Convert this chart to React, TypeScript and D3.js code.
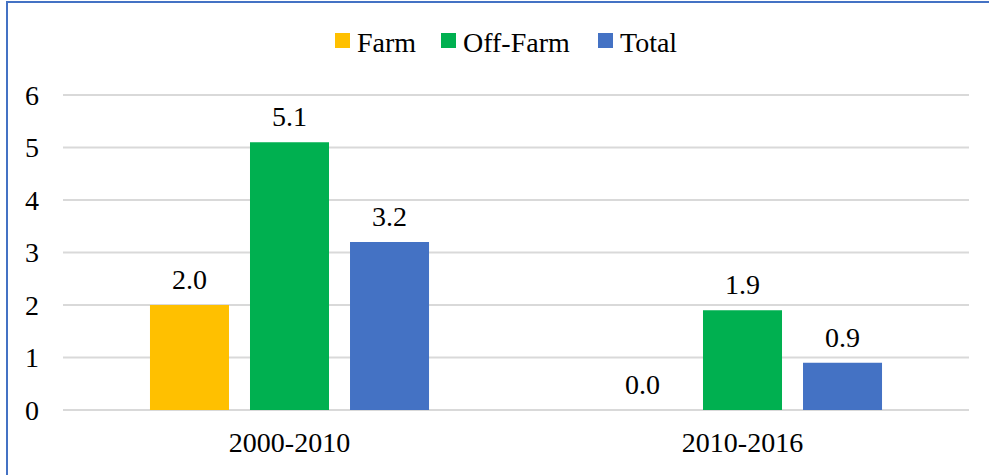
import { useMemo } from 'react'
import { scaleBand, scaleLinear } from 'd3'

// growth rates by period, grouped bars with value labels

const categories = ['2000-2010', '2010-2016']
const seriesNames = ['Farm', 'Off-Farm', 'Total']
const farm = [2.0, 0.0]
const offFarm = [5.1, 1.9]
const total = [3.2, 0.9]
const yTicks = [0, 1, 2, 3, 4, 5, 6]

const COLORS: Record<string, string> = { Farm: '#FFC000', 'Off-Farm': '#00B050', Total: '#4472C4' }
const W = 989
const H = 475
const PLOT = { left: 63, right: 969, top: 95, bottom: 410 }
const FONT = "'Liberation Serif', 'DejaVu Serif', serif"

export default function App() {
  const values: Record<string, number[]> = { Farm: farm, 'Off-Farm': offFarm, Total: total }

  const x0 = useMemo(
    () => scaleBand().domain(categories).range([PLOT.left, PLOT.right]).paddingInner(0.384).paddingOuter(0.192),
    [],
  )
  const x1 = useMemo(
    () => scaleBand().domain(seriesNames).range([0, x0.bandwidth()]).paddingInner(0.21).paddingOuter(0),
    [x0],
  )
  const y = useMemo(() => scaleLinear().domain([0, 6]).range([PLOT.bottom, PLOT.top]), [])

  // legend layout
  const legend = [
    { name: 'Farm', x: 335 },
    { name: 'Off-Farm', x: 441 },
    { name: 'Total', x: 598 },
  ]
  const txt = { fontFamily: FONT, fontSize: 28, fill: '#000' }

  return (
    <svg
      width={W}
      height={H}
      viewBox={`0 0 ${W} ${H}`}
      style={{ position: 'absolute', left: 0, top: 0, background: '#fff' }}
    >
      <rect x={0} y={0} width={W} height={H} fill="#fff" />
      <rect x={7} y={2} width={W + 20} height={H + 20} fill="none" stroke="#4472C4" strokeWidth={2} />

      {yTicks.map((t) => (
        <g key={t}>
          <line x1={PLOT.left} x2={PLOT.right} y1={y(t)} y2={y(t)} stroke="#D9D9D9" strokeWidth={2} />
          <text x={39} y={y(t) + 9.5} textAnchor="end" style={txt}>
            {t}
          </text>
        </g>
      ))}

      {categories.map((c, ci) => (
        <g key={c} transform={`translate(${x0(c)},0)`}>
          {seriesNames.map((s) => {
            const v = values[s][ci]
            const bx = x1(s) ?? 0
            const top = y(v)
            return (
              <g key={s}>
                {v > 0 && (
                  <rect x={bx} y={top} width={x1.bandwidth()} height={PLOT.bottom - top} fill={COLORS[s]} />
                )}
                <text x={bx + x1.bandwidth() / 2} y={top - 16} textAnchor="middle" style={txt}>
                  {v.toFixed(1)}
                </text>
              </g>
            )
          })}
          <text x={x0.bandwidth() / 2} y={452} textAnchor="middle" style={txt}>
            {c}
          </text>
        </g>
      ))}

      {legend.map((l) => (
        <g key={l.name}>
          <rect x={l.x} y={33} width={15} height={15} fill={COLORS[l.name]} />
          <text x={l.x + 22} y={51.5} style={txt}>
            {l.name}
          </text>
        </g>
      ))}
    </svg>
  )
}
